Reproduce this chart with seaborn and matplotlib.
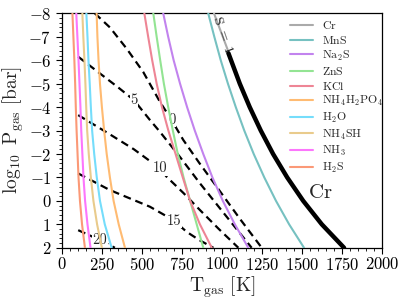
import matplotlib
matplotlib.use("Agg")
import matplotlib.pyplot as plt
from matplotlib.ticker import AutoMinorLocator, MultipleLocator
import numpy as np
import pandas as pd
import seaborn as sns

# ---------------- data ----------------
species = ["Cr", "MnS", "Na2S", "ZnS", "KCl", "NH4H2PO4", "H2O", "NH4SH", "NH3", "H2S"]
labels = [r"$\mathrm{Cr}$", r"$\mathrm{MnS}$", r"$\mathrm{Na_2S}$", r"$\mathrm{ZnS}$",
          r"$\mathrm{KCl}$", r"$\mathrm{NH_4H_2PO_4}$", r"$\mathrm{H_2O}$",
          r"$\mathrm{NH_4SH}$", r"$\mathrm{NH_3}$", r"$\mathrm{H_2S}$"]
colors = ["#aaaaaa", "#76c1c1", "#c283ee", "#93e493", "#ee8595",
          "#ffbb72", "#75ddfb", "#e9cb8c", "#fc76fc", "#fb9977"]

# pressure grid at which the curves were read  (log10 P [bar])
logP = [-8, -7, -6, -5, -4, -3, -2, -1, 0, 1, 2]

# condensation temperatures [K] read at each logP
T_Cr       = [950, 1005, 1060, 1111, 1173, 1242, 1319, 1407, 1507, 1623, 1762]
T_MnS      = [914, 952, 992, 1037, 1086, 1139, 1198, 1264, 1337, 1419, 1512]
T_Na2S     = [633, 664, 698, 738, 782, 830, 883, 940, 1005, 1080, 1164]
T_ZnS      = [571, 592, 614, 637, 664, 693, 724, 760, 801, 842, 883]
T_KCl      = [515, 539, 564, 592, 625, 665, 710, 755, 801, 862, 936]
T_NH4H2PO4 = [217, 222, 229, 238, 250, 264, 280, 300, 323, 355, 394]
T_H2O      = [153, 160, 166, 174, 181, 189, 202, 218, 238, 268, 311]
T_NH4SH    = [128, 134, 141, 147, 152, 158, 168, 181, 197, 220, 250]
T_NH3      = [90, 97, 104, 110, 116, 121, 128, 135, 145, 160, 179]
T_H2S      = [66, 72, 78, 83, 87, 92, 98, 104, 113, 126, 144]
curves_T = [T_Cr, T_MnS, T_Na2S, T_ZnS, T_KCl, T_NH4H2PO4, T_H2O, T_NH4SH, T_NH3, T_H2S]

# S = 1 line (thick black)
T_S1 = [1040, 1111, 1173, 1242, 1319, 1407, 1507, 1623, 1762]
P_S1 = [-6.3, -5, -4, -3, -2, -1, 0, 1, 2]

# supersaturation contours (dashed)
contour_levels = ["0", "5", "10", "15", "20"]
T_c0  = [206, 300, 404, 508, 612, 685, 758, 860, 967, 1110, 1248]
P_c0  = [-8.0, -7.4, -6.5, -5.5, -4.23, -3.45, -2.6, -1.6, -0.6, 0.75, 2.0]
T_c5  = [102, 237, 350, 450, 550, 612, 740, 862, 1020, 1185]
P_c5  = [-6.15, -5.44, -4.85, -4.3, -3.45, -2.95, -1.85, -0.75, 0.6, 2.0]
T_c10 = [102, 290, 450, 612, 654, 760, 862, 980, 1102]
P_c10 = [-3.66, -2.88, -2.2, -1.39, -1.03, -0.33, 0.39, 1.2, 2.0]
T_c15 = [102, 300, 550, 696, 779, 860, 946]
P_c15 = [-1.17, -0.46, 0.25, 0.82, 1.32, 1.68, 2.0]
T_c20 = [102, 237, 331]
P_c20 = [1.25, 1.67, 2.0]
contour_T = [T_c0, T_c5, T_c10, T_c15, T_c20]
contour_P = [P_c0, P_c5, P_c10, P_c15, P_c20]
label_T = [685, 450, 612, 700, 237]
label_P = [-3.45, -4.3, -1.39, 0.85, 1.67]

# ---------------- style ----------------
sns.set_theme(style="ticks")
plt.rcParams.update({
    "font.family": ["serif"],
    "font.serif": ["cmr10", "DejaVu Serif"],
    "mathtext.fontset": "cm",
    "axes.formatter.use_mathtext": True,
    "axes.unicode_minus": True,
    "axes.edgecolor": "black",
    "axes.linewidth": 0.9,
    "xtick.color": "black",
    "ytick.color": "black",
})

fig = plt.figure(figsize=(4.07, 3.04), dpi=100)
ax = fig.add_axes([0.152, 0.185, 0.787, 0.771])

# dashed contours
for Tc, Pc in zip(contour_T, contour_P):
    sns.lineplot(x=Tc, y=Pc, sort=False, estimator=None, ax=ax, color="black",
                 lw=1.6, linestyle=(0, (3.5, 2.2)), zorder=2)
for lab, tx, py in zip(contour_levels, label_T, label_P):
    ax.text(tx, py, lab, fontsize=10.5, ha="center", va="center", zorder=2.5,
            bbox=dict(facecolor="white", edgecolor="none", pad=0.3))

# condensation curves
handles = []
for name, lab, c, Tc in zip(species, labels, colors, curves_T):
    sns.lineplot(x=Tc, y=logP, sort=False, estimator=None, ax=ax, color=c,
                 lw=1.5, zorder=3)
    handles.append(plt.Line2D([], [], color=c, lw=1.5, label=lab))

sns.lineplot(x=T_S1, y=P_S1, sort=False, estimator=None, ax=ax, color="black",
             lw=3.2, zorder=4)

ax.text(1003, -7.1, r"$\mathrm{S}\ =\ 1$", rotation=-71, fontsize=10, ha="center",
        va="center", color="#222222", zorder=5)
ax.text(1612, -0.33, r"$\mathrm{Cr}$", fontsize=15, ha="center", va="center")

ax.set_xlim(0, 2000)
ax.set_ylim(2, -8)
ax.xaxis.set_major_locator(MultipleLocator(250))
ax.yaxis.set_major_locator(MultipleLocator(1))
ax.xaxis.set_minor_locator(AutoMinorLocator(5))
ax.yaxis.set_minor_locator(AutoMinorLocator(5))
ax.tick_params(which="major", length=4, width=0.8, labelsize=12, direction="out")
ax.tick_params(which="minor", length=2, width=0.6, direction="out")
ax.tick_params(axis="x", pad=2)

ax.set_xlabel(r"$\mathrm{T_{gas}\ [K]}$", fontsize=14, labelpad=1)
ax.set_ylabel(r"$\mathrm{\log_{10}\ P_{gas}\ [bar]}$", fontsize=14, labelpad=2)

leg = ax.legend(handles=handles, loc="upper left", bbox_to_anchor=(0.698, 0.995),
                frameon=False, fontsize=8.5, handlelength=1.95, labelspacing=0.22,
                handletextpad=0.74, borderaxespad=0.0)

fig.savefig("out.png", dpi=100)
